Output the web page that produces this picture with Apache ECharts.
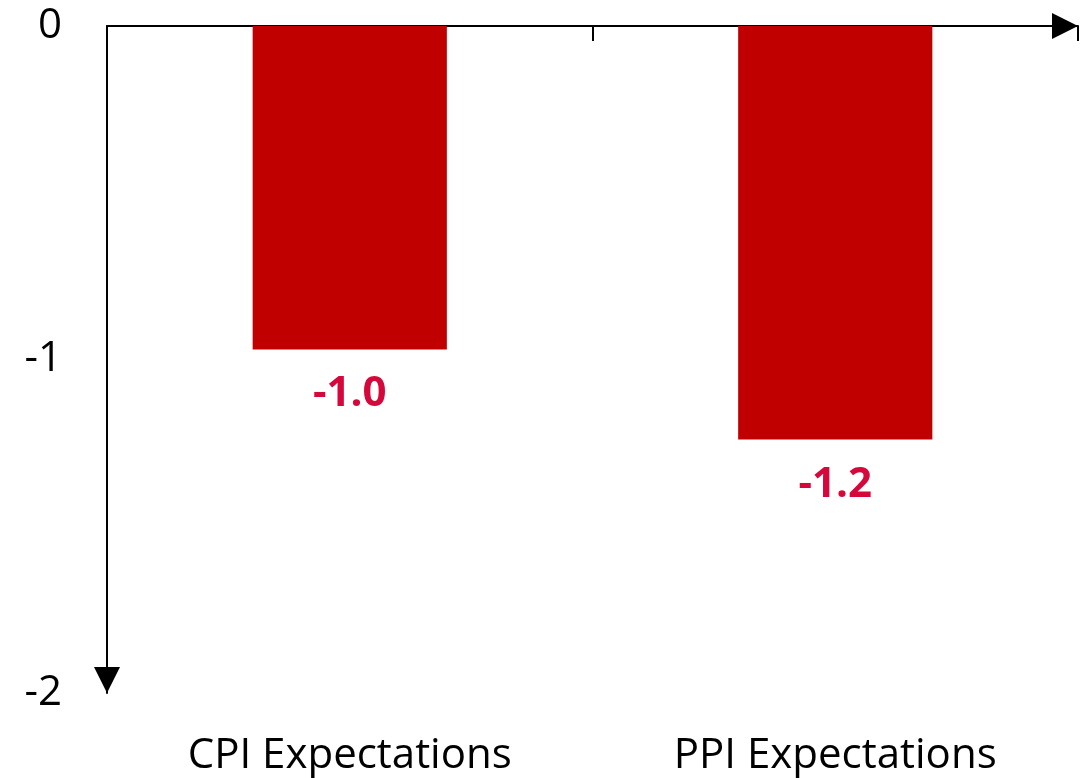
<!DOCTYPE html>
<html>
<head>
<meta charset="utf-8">
<script src="https://cdn.jsdelivr.net/npm/echarts@6/dist/echarts.min.js"></script>
<style>
  html, body { margin: 0; padding: 0; background: #fff; }
  #main { width: 1092px; height: 778px; }
</style>
</head>
<body>
<div id="main"></div>
<script>
// 数据
var categories = ['CPI Expectations', 'PPI Expectations'];
var values = [-0.97, -1.24];
var yTicks = [-2, -1, 0];

var myChart = echarts.init(document.getElementById('main'));

var option = {
  animation: false,
  textStyle: { fontFamily: 'Open Sans' },
  grid: { left: 107, right: 14, top: 26, bottom: 85 },
  xAxis: [
    {
      // 顶部的轴线（0 处），带箭头
      type: 'category',
      position: 'top',
      data: categories,
      axisLine: {
        show: true,
        symbol: ['none', 'triangle'],
        symbolSize: [26, 26],
        symbolOffset: [0, -13],
        lineStyle: { color: '#000', width: 2 }
      },
      axisTick: { show: true, inside: true, length: 15, lineStyle: { color: '#000', width: 2 } },
      axisLabel: { show: false }
    },
    {
      // 底部只显示类别文字
      type: 'category',
      position: 'bottom',
      data: categories,
      axisLine: { show: false },
      axisTick: { show: false },
      axisLabel: { show: true, color: '#000', fontSize: 42, margin: 42, fontFamily: 'Open Sans' }
    }
  ],
  yAxis: {
    type: 'value',
    min: yTicks[0],
    max: yTicks[yTicks.length - 1],
    interval: 1,
    splitLine: { show: false },
    axisTick: { show: false },
    axisLine: {
      show: true,
      symbol: ['triangle', 'none'],
      symbolSize: [26, 26],
      symbolOffset: [13, 0],
      lineStyle: { color: '#000', width: 2 }
    },
    axisLabel: { color: '#000', fontSize: 42, margin: 45, fontFamily: 'Open Sans' }
  },
  series: [
    {
      type: 'bar',
      xAxisIndex: 0,
      data: values,
      barWidth: '40%',
      itemStyle: { color: '#c00000' },
      label: {
        show: true,
        position: 'bottom',
        distance: 24,
        color: '#d6083b',
        fontSize: 42,
        fontWeight: 'bold',
        fontFamily: 'Open Sans',
        formatter: function (p) { return p.value.toFixed(1); }
      }
    }
  ]
};
myChart.setOption(option);
</script>
</body>
</html>
